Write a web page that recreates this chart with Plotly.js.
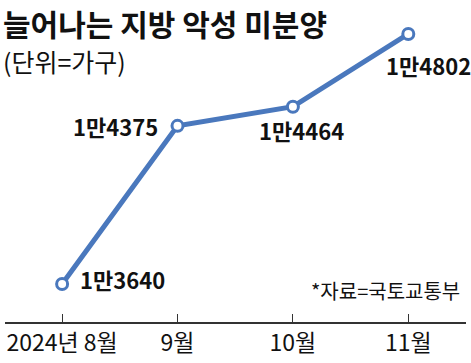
<!DOCTYPE html>
<html><head><meta charset="utf-8">
<script src="https://cdn.plot.ly/plotly-3.0.1.min.js"></script>
<style>html,body{margin:0;padding:0;background:#fff}#chart{width:471px;height:363px}</style>
</head><body><div id="chart"></div>
<script>
const months = ["2024년 8월", "9월", "10월", "11월"];
const values = [13640, 14375, 14464, 14802];
const valueLabels = ["1만3640", "1만4375", "1만4464", "1만4802"];

const FONT = "'Liberation Sans Narrow', 'Noto Sans CJK KR', sans-serif";
const xs = months.map((_, i) => i);

const trace = {
  x: xs, y: values, type: "scatter", mode: "lines+markers",
  line: {color: "#4a78bd", width: 5},
  marker: {size: 11, color: "#ffffff", line: {color: "#4a78bd", width: 3}},
  hoverinfo: "none", cliponaxis: false
};

const labelPos = [
  {xanchor: "left", yanchor: "middle", xshift: 16, yshift: 5},
  {xanchor: "right", yanchor: "middle", xshift: -18, yshift: 0},
  {xanchor: "center", yanchor: "top", xshift: 9, yshift: -5},
  {xanchor: "center", yanchor: "top", xshift: 20, yshift: -13}
];
const annotations = values.map((v, i) => Object.assign({
  x: xs[i], y: v, xref: "x", yref: "y", text: "<b>" + valueLabels[i] + "</b>", showarrow: false,
  font: {family: FONT, size: 22, color: "#111"}
}, labelPos[i]));
annotations.push({xref: "paper", yref: "paper", x: 0.0, y: 1, xanchor: "left", yanchor: "top", align: "left", xshift: -4, yshift: 1,
  text: "<span style='font-size:30px'><b>늘어나는 지방 악성 미분양</b></span><br><span style='font-size:25px'>(단위=가구)</span>", showarrow: false,
  font: {family: "'Noto Sans CJK KR', sans-serif", size: 28, color: "#111"}});
annotations.push({xref: "paper", yref: "paper", x: 1, y: 0, xanchor: "right", yanchor: "bottom", xshift: -4, yshift: 15,
  text: "*자료=국토교통부", showarrow: false, font: {family: FONT, size: 20, color: "#111"}});

const layout = {
  width: 471, height: 363,
  margin: {l: 5, r: 5, t: 0, b: 41},
  paper_bgcolor: "#ffffff", plot_bgcolor: "#ffffff",
  showlegend: false,
  xaxis: {range: [-0.495, 3.5], tickvals: xs, ticktext: months, ticks: "inside", ticklen: 8, tickcolor: "#333",
    tickwidth: 1, showline: true, linecolor: "#333", linewidth: 1.5, showgrid: false, zeroline: false,
    tickfont: {family: FONT, size: 23, color: "#111"}, fixedrange: true},
  yaxis: {range: [13463, 14960], visible: false, showgrid: false, zeroline: false, fixedrange: true},
  annotations: annotations
};
Plotly.newPlot("chart", [trace], layout, {displayModeBar: false, staticPlot: true});
</script></body></html>
